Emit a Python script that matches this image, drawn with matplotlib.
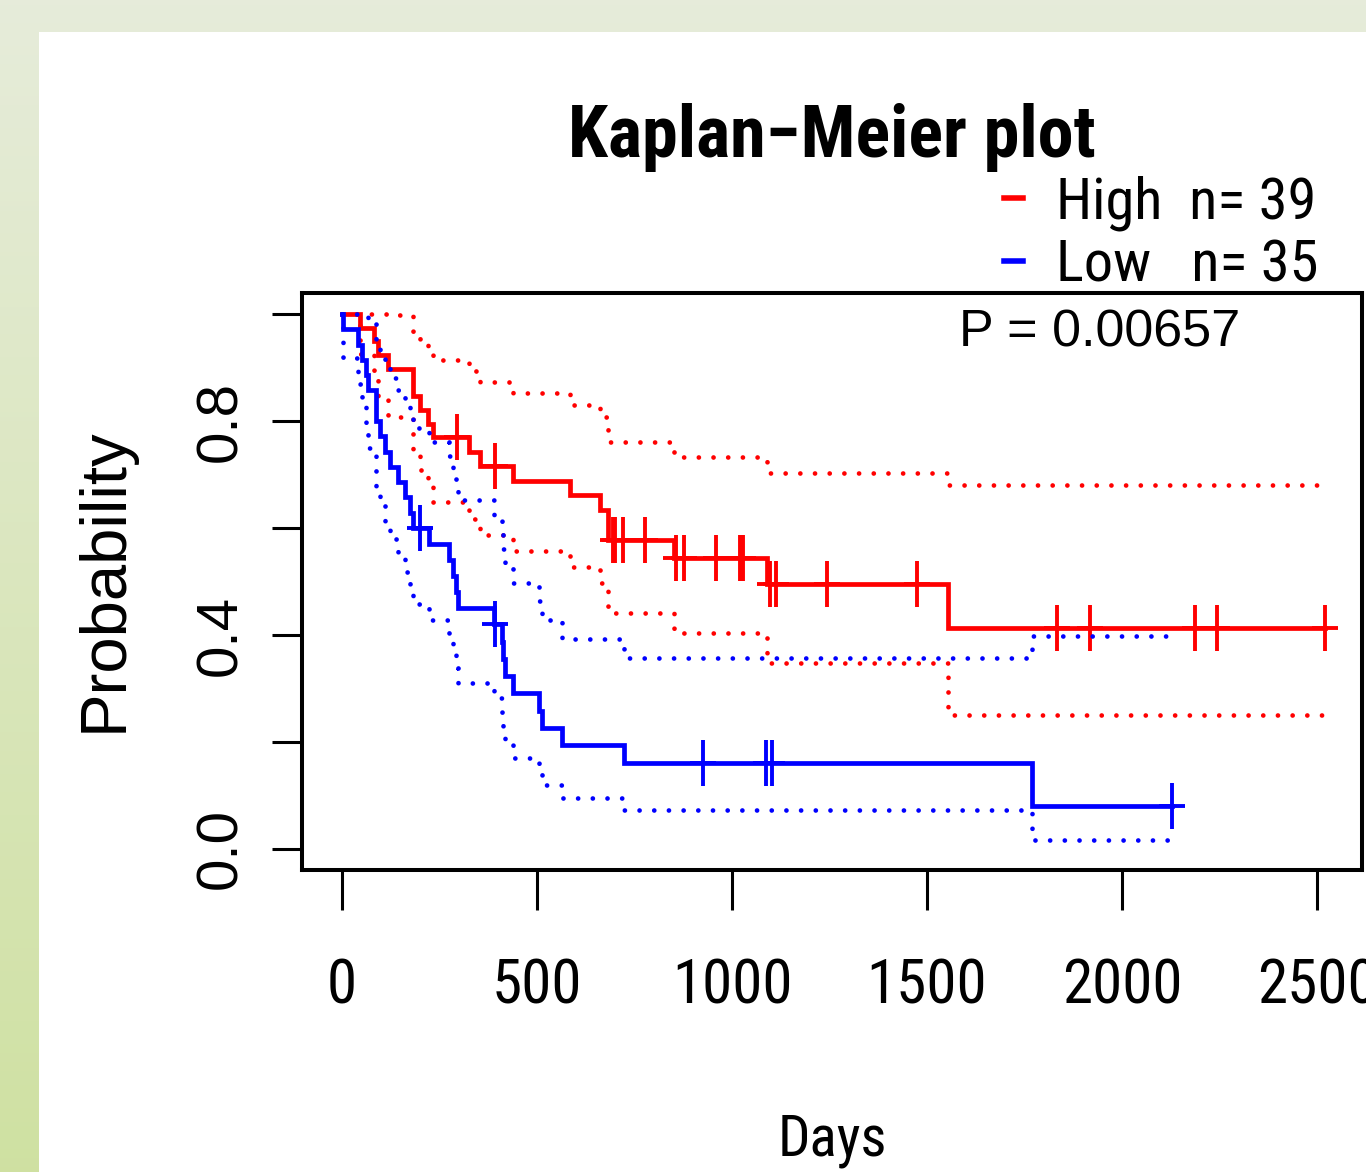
import numpy as np
import matplotlib
matplotlib.use("Agg")
import matplotlib.pyplot as plt
import matplotlib.font_manager as fm
from matplotlib.path import Path
from matplotlib.patches import Rectangle

# --survival data (days)
high_event_days = [46, 83, 93, 119, 183, 183, 200, 221, 234, 325, 355, 439, 585, 662,
                   681, 681, 850, 1089, 1554]
high_censor_days = [295, 392, 696, 700, 720, 777, 857, 876, 959, 1021, 1029, 1097, 1113,
                    1244, 1474, 1833, 1918, 2187, 2244, 2521]
low_event_days = [3, 42, 52, 61, 67, 86, 88, 97, 110, 123, 144, 162, 174, 183, 222,
                  275, 284, 291, 298, 390, 410, 414, 418, 438, 504, 512, 563, 724, 1769]
low_censor_days = [200, 393, 926, 1087, 1103, 2128]

group_labels = ["High  n= 39", "Low   n= 35"]
group_colors = ["#ff0000", "#0000ff"]
x_ticks = [0, 500, 1000, 1500, 2000, 2500]
y_ticks = [0.0, 0.2, 0.4, 0.6, 0.8, 1.0]
y_tick_labels = ["0.0", "", "0.4", "", "0.8", ""]
p_text = "P = 0.00657"

# --R output looks squeezed, so use a condensed face if there is one
names = {f.name for f in fm.fontManager.ttflist}
narrow = "Liberation Sans"
for cand in ["Liberation Sans Narrow", "Arial Narrow", "Roboto Condensed", "Archivo Narrow"]:
    if cand in names:
        narrow = cand
        break


def km(events, censors):
    t = np.array(events + censors, dtype=float)
    d = np.array([1] * len(events) + [0] * len(censors))
    times = np.unique(t)
    s, v = 1.0, 0.0
    xs, ss, lo, hi = [0.0], [1.0], [1.0], [1.0]
    for tt in times:
        n = np.sum(t >= tt)
        dd = np.sum(d[t == tt])
        if dd > 0:
            s *= 1 - dd / n
            v += dd / (n * (n - dd))  # greenwood, log scale like survfit
        se = np.sqrt(v)
        xs.append(tt)
        ss.append(s)
        lo.append(s * np.exp(-1.96 * se))
        hi.append(min(1.0, s * np.exp(1.96 * se)))
    return np.array(xs), np.array(ss), np.array(lo), np.array(hi)


def surv_at(xs, ss, tt):
    i = np.searchsorted(xs, tt, side="right") - 1
    return ss[i]


W, H = 1366, 1172
fig = plt.figure(figsize=(W / 100, H / 100), dpi=100)

# --green gradient behind, white panel on top
bg = fig.add_axes([0, 0, 1, 1], zorder=-10)
grad = np.linspace(0, 1, 256).reshape(-1, 1)
c_top = np.array([0.902, 0.925, 0.855])
c_bot = np.array([0.812, 0.882, 0.635])
img = c_top + grad[:, :, None] * (c_bot - c_top)
bg.imshow(img, aspect="auto", extent=[0, 1, 0, 1], origin="upper")
bg.set_axis_off()
fig.patches.append(Rectangle((39 / W, 0), 1, 1 - 32 / H, transform=fig.transFigure,
                             facecolor="white", edgecolor="none", zorder=-5))

ax = fig.add_axes([302 / W, 1 - 870 / H, 1060 / W, 577 / H])
ax.set_xlim(-102.6, 2615.4)
ax.set_ylim(-0.0393, 1.0393)

plus = Path([(-0.58, 0), (0.58, 0), (0, -1), (0, 1)],
            [Path.MOVETO, Path.LINETO, Path.MOVETO, Path.LINETO])

groups = [(high_event_days, high_censor_days), (low_event_days, low_censor_days)]
for (ev, ce), col, lab in zip(groups, group_colors, group_labels):
    xs, ss, lo, hi = km(ev, ce)
    ax.plot(xs, ss, drawstyle="steps-post", color=col, lw=3.4, label=lab,
            solid_joinstyle="miter")
    for band in (lo, hi):
        ax.plot(xs, band, drawstyle="steps-post", color=col, lw=3.4,
                linestyle=(0, (0.01, 3.1)), dash_capstyle="round")
    cy = [surv_at(xs, ss, c) for c in ce]
    ax.plot(ce, cy, linestyle="none", marker=plus, markersize=33, markeredgewidth=2.8,
            color=col)

for sp in ax.spines.values():
    sp.set_linewidth(2.9)
ax.set_xticks(x_ticks)
ax.set_xticklabels([str(v) for v in x_ticks], fontfamily=narrow, fontsize=44)
ax.set_yticks(y_ticks)
ax.set_yticklabels(y_tick_labels, rotation=90, va="center", fontfamily="Liberation Sans",
                   fontsize=42)
ax.tick_params(axis="x", length=29, width=2.2, pad=34)
ax.tick_params(axis="y", length=21.6, width=2.2, pad=17)

ax.text((1240 - 302) / 1060, 0.93, p_text, transform=ax.transAxes, ha="right",
        va="center", fontfamily="Liberation Sans", fontsize=37.5)

fig.text(832 / W, 1 - 138 / H, "Kaplan\u2212Meier plot", ha="center", va="center",
         fontfamily=narrow, fontweight="bold", fontsize=52)
fig.text(832 / W, 1 - 1140 / H, "Days", ha="center", va="center", fontfamily=narrow,
         fontsize=41)
fig.text(105 / W, 1 - 580 / H, "Probability", ha="center", va="center", rotation=90,
         fontfamily="Liberation Sans", fontsize=47)

leg = ax.legend(loc="lower right", bbox_to_anchor=(1318 / W, 1 - 293 / H),
                bbox_transform=fig.transFigure, frameon=False, handlelength=0.33,
                handletextpad=0.55, labelspacing=0.12, borderpad=0, borderaxespad=0,
                prop={"family": narrow, "size": 42})
for ln in leg.get_lines():
    ln.set_linewidth(4)

fig.savefig("out.png", dpi=100)
